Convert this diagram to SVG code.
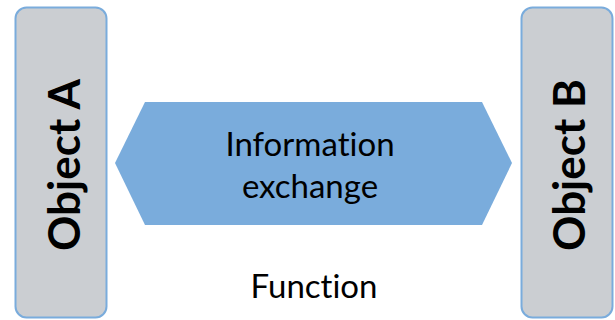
<svg xmlns="http://www.w3.org/2000/svg" width="615" height="320" viewBox="0 0 615 320">
<style>
.obj{fill:#cbced2;stroke:#7aacdc;stroke-width:2}
text{font-family:Lato,"Liberation Sans",sans-serif;fill:#000;text-anchor:middle;font-variant-ligatures:none;font-feature-settings:"liga" 0,"clig" 0,"dlig" 0,"calt" 0}
.objt{font-weight:bold;font-size:44px}
.t{font-size:33px}
</style>
<rect width="615" height="320" fill="#ffffff"/>
<g id="objectA">
<rect class="obj" x="15.5" y="7.5" width="91" height="310" rx="11"/>
<text class="objt" transform="translate(80,165) rotate(-90)">Object A</text>
</g>
<g id="objectB">
<rect class="obj" x="521.5" y="7.5" width="91" height="310" rx="11"/>
<text class="objt" transform="translate(585,165) rotate(-90)">Object B</text>
</g>
<g id="connectors">
<g id="exchange">
<polygon points="115,163 145,102 482,102 512,163 482,225 145,225" fill="#7aacdc"/>
<text class="t" x="310" y="156">Information</text>
<text class="t" x="310" y="198">exchange</text>
</g>
</g>
<g id="function">
<text class="t" x="314" y="298">Function</text>
</g>
</svg>
